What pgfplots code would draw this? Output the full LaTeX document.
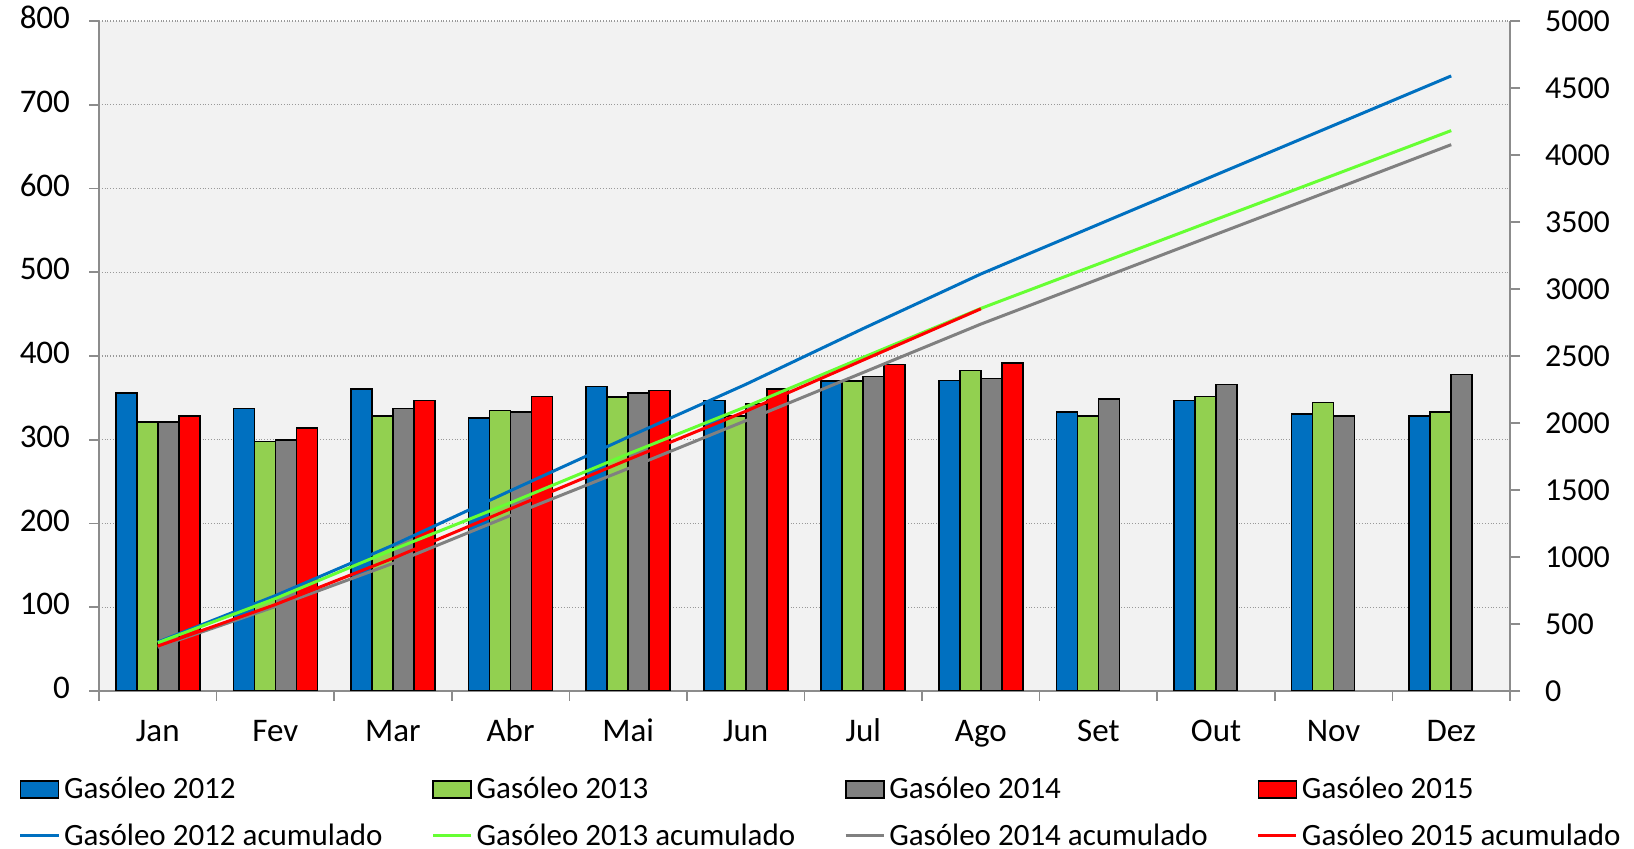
\documentclass[border=0pt]{standalone}
\usepackage{fontspec}
\setmainfont{Carlito}
\usepackage{pgfplots}
\pgfplotsset{compat=1.18}

\definecolor{b12}{HTML}{0070C0}
\definecolor{b13}{HTML}{92D050}
\definecolor{b14}{HTML}{808080}
\definecolor{b15}{HTML}{FF0000}
\definecolor{l13}{HTML}{66FF33}
\definecolor{bgc}{HTML}{F2F2F2}
\definecolor{axc}{HTML}{8C8C8C}

\begin{document}
\begin{tikzpicture}
\pgfplotsset{
  common/.style={
    width=705.5pt, height=335pt, scale only axis,
    xmin=-0.5, xmax=11.5, enlargelimits=false,
    tick label style={font=\fontsize{16.5}{19}\selectfont},
    /pgf/number format/assume math mode=true,
    /pgf/number format/1000 sep={},
    axis line style={axc, line width=0.8pt},
    tick style={axc, line width=0.8pt},
    tick align=outside, major tick length=5pt, minor tick length=5pt,
  }
}

% monthly bars, left axis
\begin{axis}[common,
  ybar=0pt, bar width=10.5pt,
  ymin=0, ymax=800, ytick={0,100,...,800},
  axis y line*=left, axis x line*=bottom,
  axis background/.style={fill=bgc},
  ymajorgrids, grid style={densely dotted, black!40, line width=0.7pt},
  xtick={0,...,11},
  xticklabels={Jan,Fev,Mar,Abr,Mai,Jun,Jul,Ago,Set,Out,Nov,Dez},
  typeset ticklabels with strut,
  major x tick style={draw=none},
  minor xtick={-0.5,0.5,...,11.5},
  xticklabel style={yshift=-3.5pt},
  yticklabel style={xshift=-6pt},
  every axis plot/.append style={draw=black, line width=0.8pt},
]
\coordinate (O) at (rel axis cs:0,0);
\addplot[fill=b12] coordinates {(0,356) (1,337.5) (2,360.6) (3,326) (4,363.4) (5,347) (6,370) (7,370.6) (8,333) (9,347) (10,330.7) (11,328)};
\addplot[fill=b13] coordinates {(0,321) (1,298) (2,328) (3,335) (4,351) (5,328) (6,370) (7,382.5) (8,328) (9,351.5) (10,344.7) (11,333)};
\addplot[fill=b14] coordinates {(0,321) (1,300) (2,337.5) (3,333) (4,356) (5,343) (6,375.7) (7,373) (8,349) (9,365.8) (10,328) (11,377.8)};
\addplot[fill=b15] coordinates {(0,328) (1,314) (2,346.7) (3,351.5) (4,358.6) (5,360.6) (6,389.7) (7,391.6)};
\end{axis}

% cumulative lines, right axis
\begin{axis}[common,
  ymin=0, ymax=5000, ytick={0,500,...,5000},
  axis y line*=right, axis x line=none,
  yticklabel style={xshift=9pt},
  tick label style={font=\fontsize{16}{19}\selectfont},
  legend columns=4, legend cell align=left,
  legend image code/.code={\draw[#1] (0cm,0cm) -- (0.67cm,0cm);},
  legend style={draw=none, fill=none, at={(-0.0613,-0.1188)}, anchor=north west,
    font=\fontsize{15.5}{18}\selectfont, row sep=9pt,
    nodes={inner ysep=1pt},
    /tikz/every even column/.append style={column sep=22.5pt}},
]
\addlegendimage{legend image code/.code={\draw[black,line width=0.8pt,fill=b12] (0cm,-0.15cm) rectangle (0.67cm,0.15cm);}}
\addlegendentry{Gasóleo 2012}
\addlegendimage{legend image code/.code={\draw[black,line width=0.8pt,fill=b13] (0cm,-0.15cm) rectangle (0.67cm,0.15cm);}}
\addlegendentry{Gasóleo 2013}
\addlegendimage{legend image code/.code={\draw[black,line width=0.8pt,fill=b14] (0cm,-0.15cm) rectangle (0.67cm,0.15cm);}}
\addlegendentry{Gasóleo 2014}
\addlegendimage{legend image code/.code={\draw[black,line width=0.8pt,fill=b15] (0cm,-0.15cm) rectangle (0.67cm,0.15cm);}}
\addlegendentry{Gasóleo 2015}
\addplot[b12, line width=1.5pt, mark=none] coordinates {(0,365) (1,712) (2,1088) (3,1495) (4,1895) (5,2288) (6,2705) (7,3112) (8,3482) (9,3852) (10,4221) (11,4590)};
\addlegendentry{Gasóleo 2012 acumulado}
\addplot[l13, line width=1.5pt, mark=none] coordinates {(0,360) (1,690) (2,1055) (3,1405) (4,1769) (5,2121) (6,2490) (7,2855) (8,3187) (9,3519) (10,3850) (11,4182)};
\addlegendentry{Gasóleo 2013 acumulado}
\addplot[b14, line width=1.5pt, mark=none] coordinates {(0,327) (1,630) (2,952) (3,1310) (4,1660) (5,2017) (6,2377) (7,2738) (8,3073) (9,3408) (10,3742) (11,4077)};
\addlegendentry{Gasóleo 2014 acumulado}
\addplot[b15, line width=1.5pt, mark=none] coordinates {(0,335) (1,645) (2,990) (3,1360) (4,1727) (5,2087) (6,2470) (7,2852)};
\addlegendentry{Gasóleo 2015 acumulado}
\end{axis}

\pgfresetboundingbox
\path[use as bounding box] (O) ++(-49.5pt,-79pt) rectangle ++(817pt,424.5pt);
\end{tikzpicture}
\end{document}
